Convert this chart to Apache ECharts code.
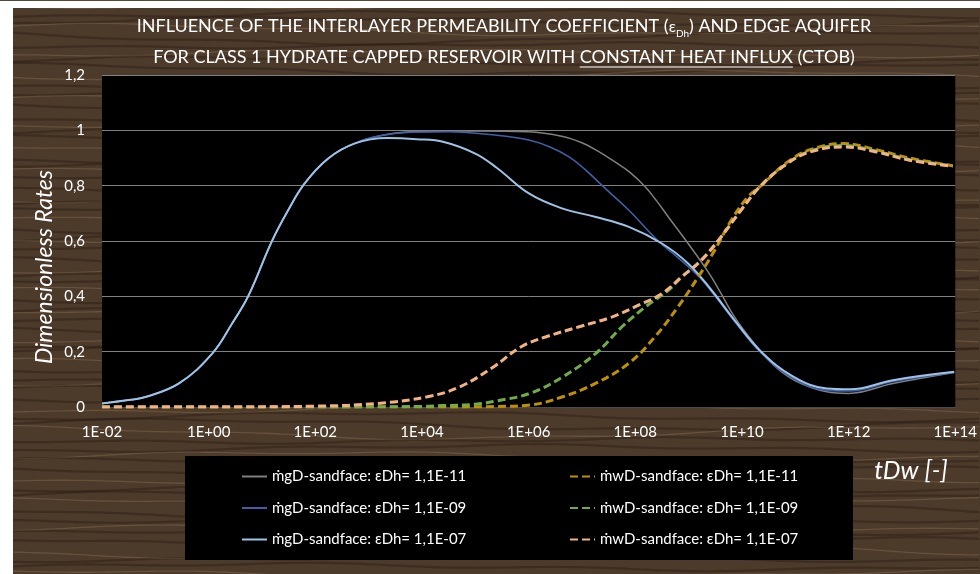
<!DOCTYPE html>
<html><head><meta charset="utf-8">
<script src="https://cdn.jsdelivr.net/npm/echarts@6/dist/echarts.min.js"></script>
<style>html,body{margin:0;padding:0;background:#fff;}#c{width:980px;height:574px;}</style>
</head><body><div id="c"></div>
<script>
// ---------- DATA (x given as log10 of tDw) ----------
const xTickLabels = ['1E-02','1E+00','1E+02','1E+04','1E+06','1E+08','1E+10','1E+12','1E+14'];
const yTickLabels = ['0','0,2','0,4','0,6','0,8','1','1,2'];

const seriesNames = [
  'ṁgD-sandface: εDh= 1,1E-11',
  'ṁgD-sandface: εDh= 1,1E-09',
  'ṁgD-sandface: εDh= 1,1E-07',
  'ṁwD-sandface: εDh= 1,1E-11',
  'ṁwD-sandface: εDh= 1,1E-09',
  'ṁwD-sandface: εDh= 1,1E-07'
];

const gasE11_logT = [-2,-1.5,-1.17,-0.55,0.07,0.44,0.75,1.18,1.49,1.80,2.24,2.73,3.2,3.78,5.0,6.0,6.64,7.0,7.3,7.57,7.9,8.19,8.4,8.62,8.99,9.36,9.61,9.86,10.23,10.6,11.0,11.59,12.0,12.83,13.98];
const gasE11_val  = [0.013,0.025,0.037,0.086,0.194,0.302,0.404,0.597,0.711,0.808,0.898,0.952,0.98,0.995,0.998,0.995,0.978,0.955,0.925,0.892,0.848,0.795,0.745,0.687,0.591,0.49,0.41,0.326,0.230,0.150,0.095,0.055,0.049,0.085,0.125];

const gasE09_logT = [-2,-1.5,-1.17,-0.55,0.07,0.44,0.75,1.18,1.49,1.80,2.24,2.73,3.2,3.78,4.5,5.4,6.02,6.4,6.75,7.05,7.38,7.88,8.43,8.80,9.2,9.5,9.86,10.36,10.97,11.59,12.03,12.83,13.98];
const gasE09_val  = [0.013,0.025,0.037,0.086,0.194,0.302,0.404,0.597,0.711,0.808,0.898,0.952,0.98,0.993,0.995,0.982,0.964,0.94,0.905,0.86,0.80,0.711,0.60,0.54,0.47,0.40,0.31,0.195,0.103,0.06,0.058,0.092,0.125];

const gasE07_logT = [-2,-1.5,-1.17,-0.55,0.07,0.44,0.75,1.18,1.49,1.80,2.24,2.73,3.35,3.9,4.41,5.0,5.4,6.02,6.64,7.26,7.88,8.50,8.99,9.43,9.86,10.36,10.97,11.59,12.03,12.83,13.98];
const gasE07_val  = [0.013,0.025,0.037,0.086,0.194,0.302,0.404,0.597,0.711,0.808,0.898,0.952,0.972,0.968,0.958,0.916,0.865,0.77,0.717,0.687,0.651,0.591,0.519,0.422,0.314,0.200,0.109,0.067,0.064,0.097,0.127];

const watE11_logT = [-2,0,2,4,5.4,6.02,6.64,7.26,7.88,8.37,8.80,9.18,9.49,9.80,10.11,10.36,10.85,11.28,11.9,12.52,13.14,13.95];
const watE11_val  = [0,0,0,0,0.002,0.007,0.037,0.086,0.158,0.254,0.362,0.470,0.567,0.675,0.759,0.80,0.885,0.93,0.952,0.93,0.90,0.872];

const watE09_logT = [-2,0,2,4,4.4,5.0,5.4,6.02,6.64,7.26,7.75,8.19,8.62,8.87,9.24,9.61,9.98,10.36,10.85,11.28,11.9,12.52,13.14,13.95];
const watE09_val  = [0,0,0,0.002,0.005,0.01,0.022,0.049,0.109,0.194,0.290,0.362,0.422,0.470,0.531,0.615,0.711,0.801,0.88,0.925,0.945,0.925,0.895,0.872];

const watE07_logT = [-2,0,2,3.17,4.1,4.71,5.34,5.86,6.33,6.95,7.57,8.06,8.50,8.87,9.24,9.61,9.98,10.36,10.85,11.28,11.90,12.52,13.14,13.95];
const watE07_val  = [0,0,0.003,0.013,0.037,0.073,0.145,0.218,0.254,0.290,0.326,0.368,0.410,0.470,0.531,0.615,0.711,0.801,0.880,0.922,0.940,0.922,0.892,0.870];

// ---------- helpers ----------
function pts(logT, vals){ return logT.map((e,i)=>[Math.pow(10,e), vals[i]]); }
const FONT = 'Lato, "Noto Sans", sans-serif';

function makeWood(){
  const c=document.createElement('canvas'); c.width=980; c.height=574;
  const g=c.getContext('2d');
  g.fillStyle='#fff'; g.fillRect(0,0,980,574);
  g.fillStyle='#4c3a2b'; g.fillRect(13,8,967,566);
  g.save(); g.beginPath(); g.rect(13,8,967,566); g.clip();
  for(let i=0;i<75;i++){
    const y0=6+i*7.9, amp=2+(i%5), ph=i*1.37, light=(i%3===0);
    g.strokeStyle = light ? 'rgba(165,135,100,0.30)' : 'rgba(28,18,10,0.30)';
    g.lineWidth = light ? 1.3 : 2.2;
    g.beginPath();
    for(let x=13;x<=984;x+=6){
      const y=y0+amp*Math.sin(x/150+ph)+1.4*Math.sin(x/41+ph*2.1);
      if(x===13) g.moveTo(x,y); else g.lineTo(x,y);
    }
    g.stroke();
  }
  g.restore();
  g.fillStyle='#5a4636'; g.fillRect(0,0,980,1);
  return c.toDataURL();
}
const el=document.getElementById('c');
el.style.backgroundImage='url('+makeWood()+')';

// title text pieces and measured geometry
const line1a='INFLUENCE OF THE INTERLAYER PERMEABILITY COEFFICIENT (';
const line1b=') AND EDGE AQUIFER';
const line2Pre='FOR CLASS 1 HYDRATE CAPPED RESERVOIR WITH ';
const line2U='CONSTANT HEAT INFLUX';
const line2Post=' (CTOB)';
const mc=document.createElement('canvas').getContext('2d');
mc.font='18px '+FONT;
const wPre=mc.measureText(line2Pre).width, wU=mc.measureText(line2U).width, wAll=mc.measureText(line2Pre+line2U+line2Post).width;
const titleCx=504;
const uX0=titleCx-wAll/2+wPre, uX1=uX0+wU;

const chart=echarts.init(el,null,{renderer:'canvas'});
const gasStyle=[{c:'#7f7f7f',w:1.5},{c:'#3f5fa8',w:1.6},{c:'#9dc3e6',w:2}];
const watStyle=['#bf9000','#70ad47','#f4b183'];
const gasData=[pts(gasE11_logT,gasE11_val),pts(gasE09_logT,gasE09_val),pts(gasE07_logT,gasE07_val)];
const watData=[pts(watE11_logT,watE11_val),pts(watE09_logT,watE09_val),pts(watE07_logT,watE07_val)];

const series=[];
gasData.forEach((d,i)=>series.push({name:seriesNames[i],type:'line',data:d,smooth:0.4,symbol:'none',
  lineStyle:{color:gasStyle[i].c,width:gasStyle[i].w},itemStyle:{color:gasStyle[i].c}}));
watData.forEach((d,i)=>series.push({name:seriesNames[3+i],type:'line',data:d,smooth:0.4,symbol:'none',
  lineStyle:{color:watStyle[i],width:3,type:[8,4]},itemStyle:{color:watStyle[i]}}));

const legendCommon={orient:'vertical',top:464,itemWidth:25,itemHeight:12,itemGap:16.5,
  itemStyle:{color:'transparent',borderColor:'transparent',borderWidth:0},
  textStyle:{color:'#fff',fontSize:15,fontFamily:FONT},inactiveColor:'#555'};

chart.setOption({
  animation:false,
  backgroundColor:'transparent',
  title:{
    text:line1a+'{s|ε}{sub|Dh}'+line1b+'\n'+line2Pre+line2U+line2Post,
    left:titleCx, top:11, padding:0, textAlign:'center',
    textStyle:{color:'#fff',fontSize:18,fontWeight:'normal',fontFamily:FONT,lineHeight:31,
      rich:{s:{color:'#fff',fontSize:16,fontFamily:FONT,lineHeight:31},
            sub:{color:'#fff',fontSize:10,fontFamily:FONT,verticalAlign:'bottom',lineHeight:31,padding:[0,0,3,0]}}}
  },
  grid:{left:102,right:17,top:75,bottom:167,show:true,backgroundColor:'#000',borderWidth:0},
  xAxis:{type:'log',logBase:10,min:0.01,max:1e14,interval:2,
    axisLine:{show:true,lineStyle:{color:'#4a4a4a'}},axisTick:{show:false},splitLine:{show:false},minorTick:{show:false},
    axisLabel:{color:'#fff',fontSize:15,fontFamily:FONT,margin:18,
      formatter:v=>{const e=Math.round(Math.log10(v));return xTickLabels[(e+2)/2]||'';}}},
  yAxis:{type:'value',min:0,max:1.2,interval:0.2,
    axisLine:{show:false},axisTick:{show:false},
    splitLine:{show:true,lineStyle:{color:'#808080',width:1}},
    axisLabel:{color:'#fff',fontSize:15,fontFamily:FONT,margin:17,
      formatter:v=>yTickLabels[Math.round(v/0.2)]}},
  legend:[
    Object.assign({data:seriesNames.slice(0,3),left:236},legendCommon),
    Object.assign({data:seriesNames.slice(3),left:564},legendCommon)
  ],
  graphic:[
    {type:'rect',z:-1,silent:true,shape:{x:185,y:456,width:668,height:104},style:{fill:'#000'}},
    {type:'line',silent:true,shape:{x1:uX0,y1:67,x2:uX1,y2:67},style:{stroke:'#fff',lineWidth:1.2}},
    {type:'text',silent:true,x:45,y:267,rotation:Math.PI/2,style:{text:'Dimensionless Rates',fill:'#fff',font:'italic 23px '+FONT,align:'center',verticalAlign:'middle'}},
    {type:'text',silent:true,x:911,y:471,style:{text:'tDw [-]',fill:'#fff',font:'italic 25px '+FONT,align:'center',verticalAlign:'middle'}}
  ],
  series:series
});
</script>
</body></html>
